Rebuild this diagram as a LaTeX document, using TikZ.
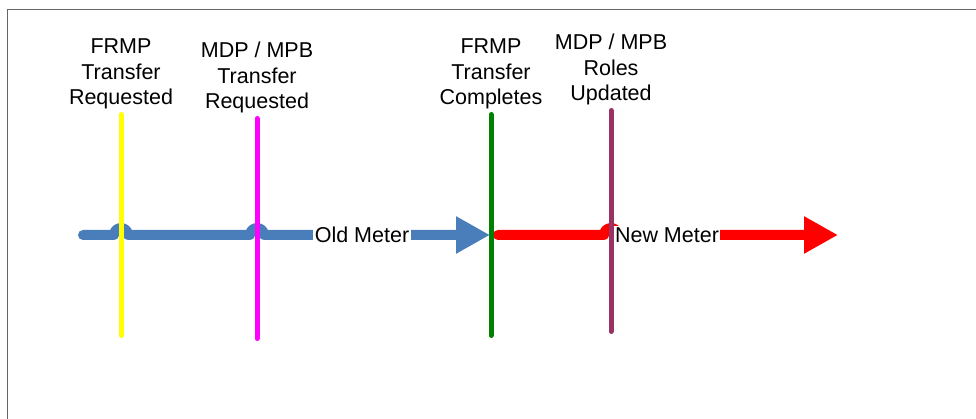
\documentclass[tikz,border=0pt]{standalone}
\usepackage{fontspec}
\setmainfont{Liberation Sans}
\usetikzlibrary{arrows.meta,positioning}

\definecolor{oldblue}{HTML}{4A7EBB}
\definecolor{newred}{HTML}{FF0000}
\definecolor{plum}{HTML}{993366}
\definecolor{okgreen}{HTML}{008000}
\definecolor{reqyellow}{HTML}{FFFF00}
\definecolor{reqmagenta}{HTML}{FF00FF}

\begin{document}
\begin{tikzpicture}
      [%%%%%%%%%%%%%%%%%%%%%%%%%%%%%%
          x=1pt, y=1pt,
          event/.style={align=center, inner sep=0pt, font=\fontsize{21.5}{25.5}\selectfont},
          eventline/.style={line width=5pt, line cap=round},
          meter/.style={line width=10pt, line cap=round, line join=round,
                        -{Triangle[length=34pt,width=35pt]}},
          metertext/.style={fill=white, inner sep=1.5pt, font=\fontsize{21.5}{25}\selectfont}
      ]%%%%%%%%%%%%%%%%%%%%%%%%%%%%%%

  \useasboundingbox (0,0) rectangle (976,419);
  \draw[gray!80!black, line width=1.6pt] (7.5,0) -- (7.5,409.5) -- (976,409.5);

  % meter lines, jumping over the event lines
  \coordinate (oldstart) at (83,184);
  \coordinate (switch) at (490,184);
  \coordinate (newstart) at (498,184);
  \coordinate (newend) at (838,184);

  \draw[meter, oldblue] (oldstart) -- (114,184) arc[start angle=180,end angle=0,radius=7]
        -- (250,184) arc[start angle=180,end angle=0,radius=7] -- (switch);
  \draw[meter, newred] (newstart) -- (604,184) arc[start angle=180,end angle=0,radius=7]
        -- (newend);

  \node[metertext] (oldmeter) at (362,184) {Old Meter};
  \node[metertext] (newmeter) at (667,184) {New Meter};

  % event lines and their labels
  \coordinate (reqtop) at (121,304.5);
  \coordinate (reqbot) at (121,83.5);
  \coordinate (mdptop) at (257,300.5);
  \coordinate (mdpbot) at (257,80.5);
  \coordinate (donetop) at (491,304.5);
  \coordinate (donebot) at (491,83.5);
  \coordinate (roletop) at (611,308.5);
  \coordinate (rolebot) at (611,87.5);

  \draw[eventline, reqyellow] (reqtop) -- (reqbot);
  \draw[eventline, reqmagenta] (mdptop) -- (mdpbot);
  \draw[eventline, okgreen] (donetop) -- (donebot);
  \draw[eventline, plum] (roletop) -- (rolebot);

  \node[event, above=5pt of reqtop] (frmpreq) {FRMP\\Transfer\\Requested};
  \node[event, above=5pt of mdptop] (mdpreq) {MDP / MPB\\Transfer\\Requested};
  \node[event, above=5pt of donetop] (frmpdone) {FRMP\\Transfer\\Completes};
  \node[event, above=5pt of roletop] (roles) {MDP / MPB\\Roles\\Updated};

\end{tikzpicture}
\end{document}
